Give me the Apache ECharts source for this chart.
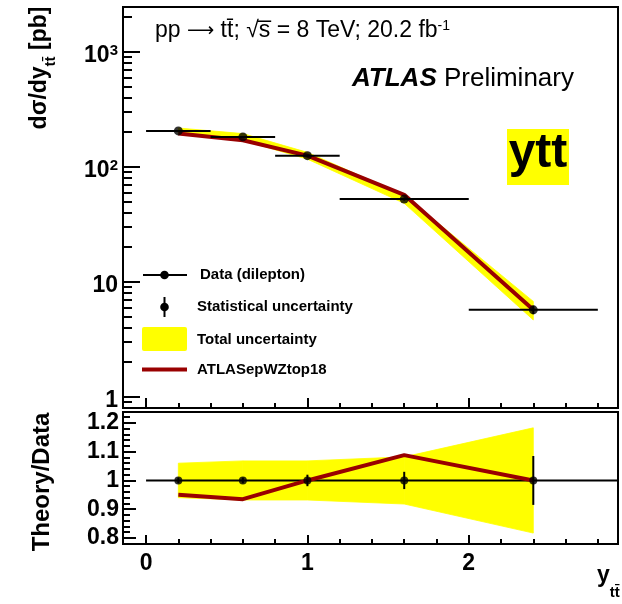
<!DOCTYPE html>
<html>
<head>
<meta charset="utf-8">
<script src="https://cdn.jsdelivr.net/npm/echarts@6/dist/echarts.min.js"></script>
<style>
  html, body { margin: 0; padding: 0; background: #fff; }
  #chart { width: 622px; height: 604px; }
</style>
</head>
<body>
<div id="chart"></div>
<script>
// Bins in y_tt
const binCenters = [0.2, 0.6, 1.0, 1.6, 2.4];
const binLow = [0.0, 0.4, 0.8, 1.2, 2.0];
const binHigh = [0.4, 0.8, 1.2, 2.0, 2.8];
// Measured dsigma/dy_tt [pb]
const dataXsec = [205, 182, 125, 52.4, 5.71];
// Relative uncertainties
const statRel = [0.01, 0.01, 0.02, 0.03, 0.085];
const totalRel = [0.06, 0.068, 0.068, 0.082, 0.183];
// ATLASepWZtop18 prediction divided by data
const theoryRatio = [0.95, 0.935, 1.0, 1.088, 1.0];
const dataRatio = [1, 1, 1, 1, 1];

// Axis ticks and labels
const xMajorTicks = [0, 1, 2];
const xTickLabels = ['0', '1', '2'];
const xMinorTicks = [0.2, 0.4, 0.6, 0.8, 1.2, 1.4, 1.6, 1.8, 2.2, 2.4, 2.6, 2.8];
const yTopMajor = [1, 10, 100, 1000];
const yTopLabels = ['1', '10', '10^2', '10^3'];
const yTopMinor = [0.9, 2, 3, 4, 5, 6, 7, 8, 9, 20, 30, 40, 50, 60, 70, 80, 90,
                   200, 300, 400, 500, 600, 700, 800, 900, 2000];
const yRatioMajor = [0.8, 0.9, 1.0, 1.1, 1.2];
const yRatioLabels = ['0.8', '0.9', '1', '1.1', '1.2'];
const yRatioMinor = [0.78, 0.82, 0.84, 0.86, 0.88, 0.92, 0.94, 0.96, 0.98,
                     1.02, 1.04, 1.06, 1.08, 1.12, 1.14, 1.16, 1.18, 1.22, 1.24];

const X_MIN = -0.143, X_MAX = 2.925;
const TOP_MIN = 0.8, TOP_MAX = 2450;
const RATIO_MIN = 0.779, RATIO_MAX = 1.238;

const FONT = '"Liberation Sans", Arial, Helvetica, sans-serif';
const YELLOW = '#ffff00';
const DARKRED = '#990000';

// Derived per-point quantities
const theoryXsec = dataXsec.map((v, i) => v * theoryRatio[i]);
const bandTop = [];
const bandRatio = [];
for (let i = 0; i + 1 < binCenters.length; i++) {
  bandTop.push([binCenters[i], dataXsec[i] * (1 - totalRel[i]), dataXsec[i] * (1 + totalRel[i]),
                binCenters[i + 1], dataXsec[i + 1] * (1 - totalRel[i + 1]), dataXsec[i + 1] * (1 + totalRel[i + 1])]);
  bandRatio.push([binCenters[i], dataRatio[i] - totalRel[i], dataRatio[i] + totalRel[i],
                  binCenters[i + 1], dataRatio[i + 1] - totalRel[i + 1], dataRatio[i + 1] + totalRel[i + 1]]);
}
const errTop = binCenters.map((x, i) => [x, dataXsec[i], binLow[i], binHigh[i],
                                          dataXsec[i] * (1 - statRel[i]), dataXsec[i] * (1 + statRel[i])]);
const errRatio = binCenters.map((x, i) => [x, dataRatio[i], dataRatio[i] - statRel[i], dataRatio[i] + statRel[i]]);

function bandItem(params, api) {
  const a = api.coord([api.value(0), api.value(1)]);
  const b = api.coord([api.value(3), api.value(4)]);
  const c = api.coord([api.value(3), api.value(5)]);
  const d = api.coord([api.value(0), api.value(2)]);
  return {
    type: 'polygon',
    shape: { points: [a, b, c, d] },
    style: { fill: YELLOW, stroke: YELLOW, lineWidth: 0.8 }
  };
}

function sameTick(a, b, log) {
  return log ? Math.abs(Math.log10(a) - Math.log10(b)) < 1e-6 : Math.abs(a - b) < 1e-6;
}

const chart = echarts.init(document.getElementById('chart'), null, { renderer: 'canvas' });

const tickStyle = { color: '#000', width: 2 };
const noLine = { show: false, onZero: false };

chart.setOption({
  animation: false,
  backgroundColor: '#fff',
  textStyle: { fontFamily: FONT },
  grid: [
    { left: 123, top: 7, width: 495, height: 401, show: true, borderColor: '#000', borderWidth: 2, backgroundColor: 'transparent' },
    { left: 123, top: 412, width: 495, height: 132, show: true, borderColor: '#000', borderWidth: 2, backgroundColor: 'transparent' }
  ],
  xAxis: [
    { type: 'value', gridIndex: 0, min: X_MIN, max: X_MAX, position: 'bottom',
      axisLine: noLine, splitLine: { show: false }, axisLabel: { show: false },
      axisTick: { inside: true, length: 10, lineStyle: tickStyle, customValues: xMajorTicks } },
    { type: 'value', gridIndex: 0, min: X_MIN, max: X_MAX, position: 'bottom',
      axisLine: noLine, splitLine: { show: false }, axisLabel: { show: false },
      axisTick: { inside: true, length: 5, lineStyle: tickStyle, customValues: xMinorTicks } },
    { type: 'value', gridIndex: 1, min: X_MIN, max: X_MAX, position: 'bottom',
      axisLine: noLine, splitLine: { show: false },
      axisTick: { inside: true, length: 9, lineStyle: tickStyle, customValues: xMajorTicks },
      axisLabel: { show: true, customValues: xMajorTicks, margin: 8, color: '#000',
        fontFamily: FONT, fontWeight: 'bold', fontSize: 23,
        formatter: v => xTickLabels[xMajorTicks.findIndex(t => sameTick(t, v, false))] } },
    { type: 'value', gridIndex: 1, min: X_MIN, max: X_MAX, position: 'bottom',
      axisLine: noLine, splitLine: { show: false }, axisLabel: { show: false },
      axisTick: { inside: true, length: 5, lineStyle: tickStyle, customValues: xMinorTicks } }
  ],
  yAxis: [
    { type: 'log', logBase: 10, gridIndex: 0, min: TOP_MIN, max: TOP_MAX, position: 'left',
      axisLine: noLine, splitLine: { show: false },
      axisTick: { inside: true, length: 17, lineStyle: tickStyle, customValues: yTopMajor },
      axisLabel: { show: true, customValues: yTopMajor, margin: 5, color: '#000',
        fontFamily: FONT, fontWeight: 'bold', fontSize: 23, lineHeight: 23, padding: [7, 0, 0, 0],
        formatter: v => {
          const s = yTopLabels[yTopMajor.findIndex(t => sameTick(t, v, true))];
          const parts = s.split('^');
          return parts.length > 1 ? parts[0] + '{sup|' + parts[1] + '}' : s;
        },
        rich: { sup: { fontFamily: FONT, fontWeight: 'bold', fontSize: 15, lineHeight: 12, verticalAlign: 'top', color: '#000' } } } },
    { type: 'log', logBase: 10, gridIndex: 0, min: TOP_MIN, max: TOP_MAX, position: 'left',
      axisLine: noLine, splitLine: { show: false }, axisLabel: { show: false },
      axisTick: { inside: true, length: 9, lineStyle: tickStyle, customValues: yTopMinor } },
    { type: 'value', gridIndex: 1, min: RATIO_MIN, max: RATIO_MAX, position: 'left',
      axisLine: noLine, splitLine: { show: false },
      axisTick: { inside: true, length: 13, lineStyle: tickStyle, customValues: yRatioMajor },
      axisLabel: { show: true, customValues: yRatioMajor, margin: 4, color: '#000',
        fontFamily: FONT, fontWeight: 'bold', fontSize: 23,
        formatter: v => yRatioLabels[yRatioMajor.findIndex(t => sameTick(t, v, false))] } },
    { type: 'value', gridIndex: 1, min: RATIO_MIN, max: RATIO_MAX, position: 'left',
      axisLine: noLine, splitLine: { show: false }, axisLabel: { show: false },
      axisTick: { inside: true, length: 7, lineStyle: tickStyle, customValues: yRatioMinor } }
  ],
  series: [
    // upper panel: total uncertainty band
    { type: 'custom', xAxisIndex: 0, yAxisIndex: 0, data: bandTop, clip: true, z: 1,
      encode: { x: 0, y: 1 }, renderItem: bandItem, silent: true },
    // upper panel: prediction
    { type: 'line', xAxisIndex: 0, yAxisIndex: 0, z: 3, symbol: 'none', silent: true,
      data: binCenters.map((x, i) => [x, theoryXsec[i]]),
      lineStyle: { color: DARKRED, width: 4, join: 'round' } },
    // upper panel: bin widths and statistical error bars
    { type: 'custom', xAxisIndex: 0, yAxisIndex: 0, data: errTop, z: 4, silent: true,
      encode: { x: 0, y: 1 },
      renderItem: (params, api) => {
        const l = api.coord([api.value(2), api.value(1)]);
        const r = api.coord([api.value(3), api.value(1)]);
        const lo = api.coord([api.value(0), api.value(4)]);
        const hi = api.coord([api.value(0), api.value(5)]);
        return { type: 'group', children: [
          { type: 'line', shape: { x1: l[0], y1: l[1], x2: r[0], y2: r[1] }, style: { stroke: '#000', lineWidth: 2 } },
          { type: 'line', shape: { x1: lo[0], y1: lo[1], x2: hi[0], y2: hi[1] }, style: { stroke: '#000', lineWidth: 2 } }
        ] };
      } },
    // upper panel: data points
    { type: 'scatter', xAxisIndex: 0, yAxisIndex: 0, z: 5, silent: true, symbol: 'circle', symbolSize: 9,
      itemStyle: { color: '#000' }, data: binCenters.map((x, i) => [x, dataXsec[i]]) },

    // ratio panel: total uncertainty band
    { type: 'custom', xAxisIndex: 2, yAxisIndex: 2, data: bandRatio, clip: true, z: 1,
      encode: { x: 0, y: 1 }, renderItem: bandItem, silent: true },
    // ratio panel: unity line
    { type: 'line', xAxisIndex: 2, yAxisIndex: 2, z: 2, symbol: 'none', silent: true, clip: true,
      data: [[0, 1], [3, 1]], lineStyle: { color: '#000', width: 2 } },
    // ratio panel: prediction / data
    { type: 'line', xAxisIndex: 2, yAxisIndex: 2, z: 3, symbol: 'none', silent: true,
      data: binCenters.map((x, i) => [x, theoryRatio[i]]),
      lineStyle: { color: DARKRED, width: 4, join: 'round' } },
    // ratio panel: statistical error bars
    { type: 'custom', xAxisIndex: 2, yAxisIndex: 2, data: errRatio, z: 4, silent: true,
      encode: { x: 0, y: 1 },
      renderItem: (params, api) => {
        const lo = api.coord([api.value(0), api.value(2)]);
        const hi = api.coord([api.value(0), api.value(3)]);
        return { type: 'line', shape: { x1: lo[0], y1: lo[1], x2: hi[0], y2: hi[1] }, style: { stroke: '#000', lineWidth: 2 } };
      } },
    // ratio panel: data points
    { type: 'scatter', xAxisIndex: 2, yAxisIndex: 2, z: 5, silent: true, symbol: 'circle', symbolSize: 8,
      itemStyle: { color: '#000' }, data: binCenters.map((x, i) => [x, dataRatio[i]]) }
  ],
  graphic: [
    // process label
    { type: 'text', x: 155, y: 31, silent: true,
      style: { text: 'pp {arr|\u27F6} tt\u0304; \u221As\u0305 = 8 TeV; 20.2 fb{sup|-1}', fill: '#000',
        font: '23px ' + FONT, textAlign: 'left', textVerticalAlign: 'middle',
        rich: { arr: { fontSize: 19, fontFamily: '"DejaVu Sans", sans-serif', lineHeight: 23, fill: '#000' },
                sup: { fontSize: 14, fontFamily: FONT, lineHeight: 12, verticalAlign: 'top', fill: '#000' } } } },
    { type: 'text', x: 352, y: 79, silent: true,
      style: { text: '{a|ATLAS} Preliminary', fill: '#000', font: '26px ' + FONT,
        textAlign: 'left', textVerticalAlign: 'middle',
        rich: { a: { fontFamily: FONT, fontSize: 26, fontWeight: 'bold', fontStyle: 'italic', fill: '#000' } } } },
    // observable tag
    { type: 'rect', silent: true, shape: { x: 507, y: 129, width: 62, height: 56 }, style: { fill: YELLOW } },
    { type: 'text', x: 538, y: 154, silent: true,
      style: { text: 'ytt', fill: '#000', font: 'bold 48px ' + FONT, textAlign: 'center', textVerticalAlign: 'middle' } },

    // legend
    { type: 'line', silent: true, shape: { x1: 143, y1: 275, x2: 187, y2: 275 }, style: { stroke: '#000', lineWidth: 2 } },
    { type: 'circle', silent: true, shape: { cx: 164.5, cy: 275, r: 4.3 }, style: { fill: '#000' } },
    { type: 'line', silent: true, shape: { x1: 164.5, y1: 297, x2: 164.5, y2: 317 }, style: { stroke: '#000', lineWidth: 2 } },
    { type: 'circle', silent: true, shape: { cx: 164.5, cy: 307, r: 4.3 }, style: { fill: '#000' } },
    { type: 'rect', silent: true, shape: { x: 142, y: 327, width: 45, height: 24, r: 2 }, style: { fill: YELLOW } },
    { type: 'line', silent: true, shape: { x1: 142, y1: 369.5, x2: 187, y2: 369.5 }, style: { stroke: DARKRED, lineWidth: 4 } },
    { type: 'text', x: 200, y: 275, silent: true, style: { text: 'Data (dilepton)', fill: '#000', font: 'bold 15px ' + FONT, textVerticalAlign: 'middle' } },
    { type: 'text', x: 197, y: 307, silent: true, style: { text: 'Statistical uncertainty', fill: '#000', font: 'bold 15px ' + FONT, textVerticalAlign: 'middle' } },
    { type: 'text', x: 197, y: 340, silent: true, style: { text: 'Total uncertainty', fill: '#000', font: 'bold 15px ' + FONT, textVerticalAlign: 'middle' } },
    { type: 'text', x: 197, y: 370, silent: true, style: { text: 'ATLASepWZtop18', fill: '#000', font: 'bold 15px ' + FONT, textVerticalAlign: 'middle' } },

    // axis titles
    { type: 'text', x: 40, y: 68, rotation: Math.PI / 2, silent: true,
      style: { text: '{m|d\u03C3/dy}{sub|tt\u0304}{m| [pb]}', fill: '#000', font: 'bold 23px ' + FONT,
        textAlign: 'center', textVerticalAlign: 'middle',
        rich: { m: { fontFamily: FONT, fontWeight: 'bold', fontSize: 23, lineHeight: 36, fill: '#000' },
                sub: { fontFamily: FONT, fontWeight: 'bold', fontSize: 15, lineHeight: 6, verticalAlign: 'bottom', fill: '#000' } } } },
    { type: 'text', x: 42, y: 482, rotation: Math.PI / 2, silent: true,
      style: { text: 'Theory/Data', fill: '#000', font: 'bold 24px ' + FONT,
        textAlign: 'center', textVerticalAlign: 'middle' } },
    { type: 'text', x: 597, y: 576, silent: true,
      style: { text: '{m|y}{sub|tt\u0304}', fill: '#000', font: 'bold 23px ' + FONT,
        textAlign: 'left', textVerticalAlign: 'middle',
        rich: { m: { fontFamily: FONT, fontWeight: 'bold', fontSize: 23, lineHeight: 48, fill: '#000' },
                sub: { fontFamily: FONT, fontWeight: 'bold', fontSize: 15, lineHeight: 6, verticalAlign: 'bottom', fill: '#000' } } } }
  ]
});
</script>
</body>
</html>
